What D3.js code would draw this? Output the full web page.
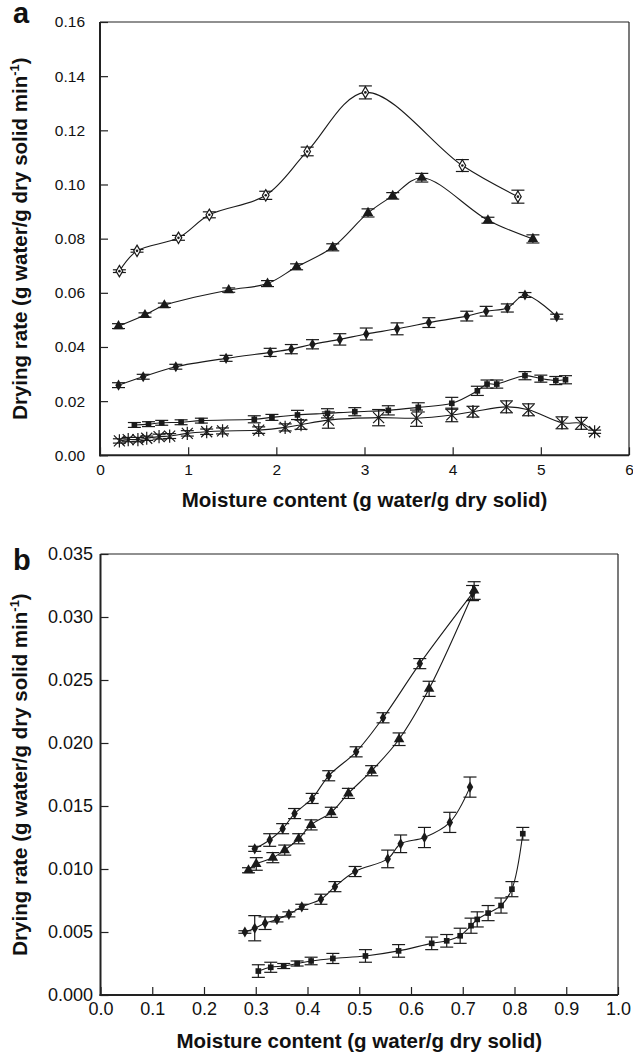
<!DOCTYPE html>
<html>
<head>
<style>
  body { margin: 0; background: #fff; }
  svg text { font-family: "Liberation Sans", Arial, sans-serif; fill: #111; }
</style>
</head>
<body>
<script src="https://d3js.org/d3.v7.min.js"></script>
<script>
// ---- panel a data (moisture content vs drying rate) ----
var aOpenX   = [0.22, 0.42, 0.89, 1.24, 1.88, 2.35, 3.01, 4.11, 4.74];
var aOpenY   = [0.068, 0.0755, 0.0803, 0.0888, 0.096, 0.1122, 0.134, 0.107, 0.0955];
var aOpenE   = [0.0005, 0.0005, 0.0009, 0.0011, 0.0015, 0.0016, 0.0024, 0.0022, 0.0024];

var aTriX    = [0.21, 0.51, 0.73, 1.46, 1.90, 2.23, 2.64, 3.04, 3.32, 3.65, 4.40, 4.91];
var aTriY    = [0.0477, 0.0518, 0.0554, 0.061, 0.0634, 0.0696, 0.0768, 0.0895, 0.0958, 0.1025, 0.0868, 0.0799];
var aTriE    = [0.0009, 0.0008, 0.0008, 0.0008, 0.0011, 0.0011, 0.0013, 0.0015, 0.0012, 0.0016, 0.0011, 0.0015];

var aDiaX    = [0.21, 0.49, 0.86, 1.43, 1.93, 2.17, 2.41, 2.72, 3.02, 3.37, 3.73, 4.16, 4.38, 4.62, 4.82, 5.18];
var aDiaY    = [0.0259, 0.029, 0.0327, 0.0358, 0.038, 0.0392, 0.041, 0.0428, 0.0448, 0.0467, 0.049, 0.0514, 0.0532, 0.0544, 0.0592, 0.0512];
var aDiaE    = [0.0009, 0.0009, 0.0009, 0.0011, 0.0015, 0.0017, 0.0017, 0.0021, 0.0022, 0.0022, 0.0018, 0.0018, 0.0018, 0.0015, 0.0009, 0.0009];

var aSqX     = [0.39, 0.55, 0.70, 0.92, 1.15, 1.75, 1.95, 2.24, 2.58, 2.89, 3.27, 3.61, 3.99, 4.28, 4.39, 4.50, 4.82, 5.00, 5.17, 5.28];
var aSqY     = [0.0112, 0.0115, 0.012, 0.0122, 0.0128, 0.0133, 0.014, 0.0149, 0.0155, 0.0161, 0.0166, 0.0177, 0.0192, 0.0238, 0.0263, 0.0263, 0.0294, 0.0283, 0.0276, 0.0279];
var aSqE     = [0.0009, 0.0009, 0.0009, 0.0009, 0.0009, 0.0013, 0.0011, 0.0017, 0.0017, 0.0015, 0.0017, 0.0017, 0.0022, 0.0017, 0.0015, 0.0015, 0.0015, 0.0013, 0.0015, 0.0015];

var aStarX   = [0.22, 0.32, 0.43, 0.53, 0.67, 0.79, 0.99, 1.21, 1.39, 1.80, 2.10, 2.28, 2.59, 3.16, 3.59, 3.99, 4.23, 4.61, 4.86, 5.24, 5.46, 5.61];
var aStarY   = [0.0053, 0.0058, 0.0058, 0.0063, 0.0069, 0.0071, 0.0081, 0.0087, 0.009, 0.0093, 0.0103, 0.0113, 0.013, 0.0139, 0.0137, 0.0149, 0.0161, 0.0179, 0.0168, 0.012, 0.0118, 0.0087];
var aStarE   = [0.0008, 0.0008, 0.0008, 0.0008, 0.0009, 0.0009, 0.001, 0.001, 0.0011, 0.0012, 0.0013, 0.0017, 0.003, 0.003, 0.003, 0.0025, 0.002, 0.0022, 0.0022, 0.0022, 0.0022, 0.0006];

// ---- panel b data ----
var bDiaHiX  = [0.298, 0.327, 0.352, 0.375, 0.409, 0.441, 0.494, 0.546, 0.617, 0.719];
var bDiaHiY  = [0.0116, 0.0123, 0.0132, 0.0144, 0.0156, 0.0174, 0.0193, 0.022, 0.0263, 0.0319];
var bDiaHiE  = [0.0002, 0.0005, 0.0004, 0.0004, 0.0004, 0.0004, 0.0004, 0.0004, 0.0004, 0.0006];

var bTriX    = [0.286, 0.301, 0.333, 0.356, 0.383, 0.407, 0.446, 0.479, 0.524, 0.577, 0.635, 0.722];
var bTriY    = [0.0099, 0.0104, 0.0109, 0.0115, 0.0124, 0.0135, 0.0145, 0.016, 0.0178, 0.0203, 0.0243, 0.0321];
var bTriE    = [0.0002, 0.0005, 0.0004, 0.0004, 0.0004, 0.0004, 0.0004, 0.0004, 0.0004, 0.0005, 0.0006, 0.0007];

var bDiaLoX  = [0.279, 0.298, 0.318, 0.341, 0.364, 0.389, 0.426, 0.453, 0.492, 0.555, 0.580, 0.626, 0.675, 0.714];
var bDiaLoY  = [0.005, 0.0053, 0.0057, 0.006, 0.0064, 0.007, 0.0076, 0.0086, 0.0098, 0.0108, 0.012, 0.0125, 0.0137, 0.0165];
var bDiaLoE  = [0.0001, 0.001, 0.0005, 0.0002, 0.0002, 0.0002, 0.0004, 0.0004, 0.0004, 0.0007, 0.0007, 0.0008, 0.0008, 0.0008];

var bSqX     = [0.305, 0.329, 0.354, 0.380, 0.407, 0.449, 0.512, 0.576, 0.640, 0.669, 0.695, 0.716, 0.728, 0.749, 0.774, 0.795, 0.816];
var bSqY     = [0.0019, 0.0022, 0.0023, 0.0025, 0.0027, 0.0029, 0.0031, 0.0035, 0.0041, 0.0043, 0.0047, 0.0055, 0.006, 0.0065, 0.0071, 0.0084, 0.0128];
var bSqE     = [0.0005, 0.0004, 0.0002, 0.0002, 0.0003, 0.0004, 0.0005, 0.0005, 0.0005, 0.0005, 0.0006, 0.0006, 0.0006, 0.0006, 0.0006, 0.0006, 0.0005];

var aXTicks = [0, 1, 2, 3, 4, 5, 6];
var aYTicks = [0, 0.02, 0.04, 0.06, 0.08, 0.10, 0.12, 0.14, 0.16];
var bXTicks = [0, 0.1, 0.2, 0.3, 0.4, 0.5, 0.6, 0.7, 0.8, 0.9, 1.0];
var bYTicks = [0, 0.005, 0.010, 0.015, 0.020, 0.025, 0.030, 0.035];

var xTitle = "Moisture content (g water/g dry solid)";

var svg = d3.select("body").append("svg")
    .attr("width", 633)
    .attr("height", 1055);

function zip(xs, ys, es) {
  return xs.map(function(x, i){ return {x: x, y: ys[i], e: es[i]}; });
}

// asterisk marker: X plus vertical stroke
function starPath(r) {
  return "M" + (-r) + "," + (-r) + "L" + r + "," + r +
         "M" + (-r) + "," + r + "L" + r + "," + (-r) +
         "M0," + (-r * 1.2) + "L0," + (r * 1.2);
}

function drawPanel(p) {
  var g = svg.append("g");

  var x = d3.scaleLinear().domain(p.xDomain).range(p.xRange);
  var y = d3.scaleLinear().domain(p.yDomain).range(p.yRange);

  var xAxis = d3.axisBottom(x).tickValues(p.xTicks).tickFormat(d3.format(p.xFmt))
      .tickSizeInner(-8).tickSizeOuter(0).tickPadding(p.xPad);
  var yAxis = d3.axisLeft(y).tickValues(p.yTicks).tickFormat(d3.format(p.yFmt))
      .tickSizeInner(-8).tickSizeOuter(0).tickPadding(p.yPad);

  var gx = g.append("g")
      .attr("transform", "translate(0," + p.yRange[0] + ")")
      .call(xAxis);
  var gy = g.append("g")
      .attr("transform", "translate(" + p.xRange[0] + ",0)")
      .call(yAxis);
  gx.select(".domain").remove();
  gy.select(".domain").remove();
  g.selectAll(".tick line").attr("stroke", "#222").attr("stroke-width", 1.2);
  g.selectAll(".tick text")
      .style("font-family", "'Liberation Sans', Arial, sans-serif")
      .attr("fill", "#111")
      .style("font-size", p.tickFont + "px");

  // frame: heavier left/bottom, light top/right
  g.append("line").attr("x1", p.xRange[0]).attr("x2", p.xRange[1])
      .attr("y1", p.yRange[1]).attr("y2", p.yRange[1])
      .attr("stroke", "#222").attr("stroke-width", 1.2);
  g.append("line").attr("x1", p.xRange[1]).attr("x2", p.xRange[1])
      .attr("y1", p.yRange[0]).attr("y2", p.yRange[1])
      .attr("stroke", "#222").attr("stroke-width", 1.2);
  g.append("line").attr("x1", p.xRange[0] - 1).attr("x2", p.xRange[1])
      .attr("y1", p.yRange[0]).attr("y2", p.yRange[0])
      .attr("stroke", "#222").attr("stroke-width", 2);
  g.append("line").attr("x1", p.xRange[0]).attr("x2", p.xRange[0])
      .attr("y1", p.yRange[0] + 1).attr("y2", p.yRange[1])
      .attr("stroke", "#222").attr("stroke-width", 2);

  var line = d3.line()
      .x(function(d){ return x(d.x); })
      .y(function(d){ return y(d.y); })
      .curve(d3.curveCatmullRom.alpha(0.5));

  p.series.forEach(function(s) {
    var sg = g.append("g");
    sg.append("path")
        .datum(s.data)
        .attr("d", line)
        .attr("fill", "none")
        .attr("stroke", "#1a1a1a")
        .attr("stroke-width", 1.1);

    // error bars
    var eb = sg.selectAll(".eb").data(s.data).enter().append("g");
    eb.append("line")
        .attr("x1", function(d){ return x(d.x); })
        .attr("x2", function(d){ return x(d.x); })
        .attr("y1", function(d){ return y(d.y - d.e); })
        .attr("y2", function(d){ return y(d.y + d.e); });
    eb.append("line")
        .attr("x1", function(d){ return x(d.x) - p.cap; })
        .attr("x2", function(d){ return x(d.x) + p.cap; })
        .attr("y1", function(d){ return y(d.y + d.e); })
        .attr("y2", function(d){ return y(d.y + d.e); });
    eb.append("line")
        .attr("x1", function(d){ return x(d.x) - p.cap; })
        .attr("x2", function(d){ return x(d.x) + p.cap; })
        .attr("y1", function(d){ return y(d.y - d.e); })
        .attr("y2", function(d){ return y(d.y - d.e); });
    eb.selectAll("line").attr("stroke", "#1a1a1a").attr("stroke-width", 1.2);

    // markers
    var m = sg.selectAll(".mk").data(s.data).enter().append("g")
        .attr("transform", function(d){ return "translate(" + x(d.x) + "," + y(d.y) + ")"; });
    if (s.shape === "star") {
      m.append("path").attr("d", starPath(5.5))
          .attr("fill", "none").attr("stroke", "#1a1a1a").attr("stroke-width", 1.2);
    } else if (s.shape === "open") {
      m.append("path").attr("d", d3.symbol().type(d3.symbolDiamond).size(38))
          .attr("fill", "#fff").attr("stroke", "#1a1a1a").attr("stroke-width", 1.2);
      m.append("circle").attr("r", 1.3).attr("fill", "#1a1a1a");
    } else {
      var types = {tri: d3.symbolTriangle, dia: d3.symbolDiamond, sq: d3.symbolSquare};
      var sizes = {tri: 48, dia: 36, sq: 32};
      m.append("path").attr("d", d3.symbol().type(types[s.shape]).size(sizes[s.shape]))
          .attr("fill", "#1a1a1a");
    }
  });

  // axis titles
  g.append("text")
      .attr("x", (p.xRange[0] + p.xRange[1]) / 2)
      .attr("y", p.xTitleY)
      .attr("text-anchor", "middle")
      .style("font-size", "20.5px")
      .style("font-weight", "bold")
      .text(xTitle);

  var yt = g.append("text")
      .attr("transform", "translate(27," + ((p.yRange[0] + p.yRange[1]) / 2) + ") rotate(-90)")
      .attr("text-anchor", "middle")
      .style("font-size", "20.5px")
      .style("font-weight", "bold");
  yt.append("tspan").text("Drying rate (g water/g dry solid min");
  yt.append("tspan").attr("dy", -8).style("font-size", "13px").text("-1");
  yt.append("tspan").attr("dy", 8).text(")");

  g.append("text")
      .attr("x", 13)
      .attr("y", p.letterY)
      .style("font-size", "29px")
      .style("font-weight", "bold")
      .text(p.letter);
}

drawPanel({
  letter: "a", letterY: 23,
  xDomain: [0, 6], xRange: [100, 629],
  yDomain: [0, 0.16], yRange: [455.3, 22],
  xTicks: aXTicks, yTicks: aYTicks, xFmt: "d", yFmt: ".2f",
  xPad: 9, yPad: 15, tickFont: 15.5, cap: 6.5,
  xTitleY: 507,
  series: [
    {shape: "open", data: zip(aOpenX, aOpenY, aOpenE)},
    {shape: "tri",  data: zip(aTriX, aTriY, aTriE)},
    {shape: "dia",  data: zip(aDiaX, aDiaY, aDiaE)},
    {shape: "sq",   data: zip(aSqX, aSqY, aSqE)},
    {shape: "star", data: zip(aStarX, aStarY, aStarE)}
  ]
});

drawPanel({
  letter: "b", letterY: 570,
  xDomain: [0, 1], xRange: [100.5, 618],
  yDomain: [0, 0.035], yRange: [995, 554],
  xTicks: bXTicks, yTicks: bYTicks, xFmt: ".1f", yFmt: ".3f",
  xPad: 7, yPad: 7.5, tickFont: 18, cap: 6.5,
  xTitleY: 1048,
  series: [
    {shape: "dia", data: zip(bDiaHiX, bDiaHiY, bDiaHiE)},
    {shape: "tri", data: zip(bTriX, bTriY, bTriE)},
    {shape: "dia", data: zip(bDiaLoX, bDiaLoY, bDiaLoE)},
    {shape: "sq",  data: zip(bSqX, bSqY, bSqE)}
  ]
});
</script>
</body>
</html>
